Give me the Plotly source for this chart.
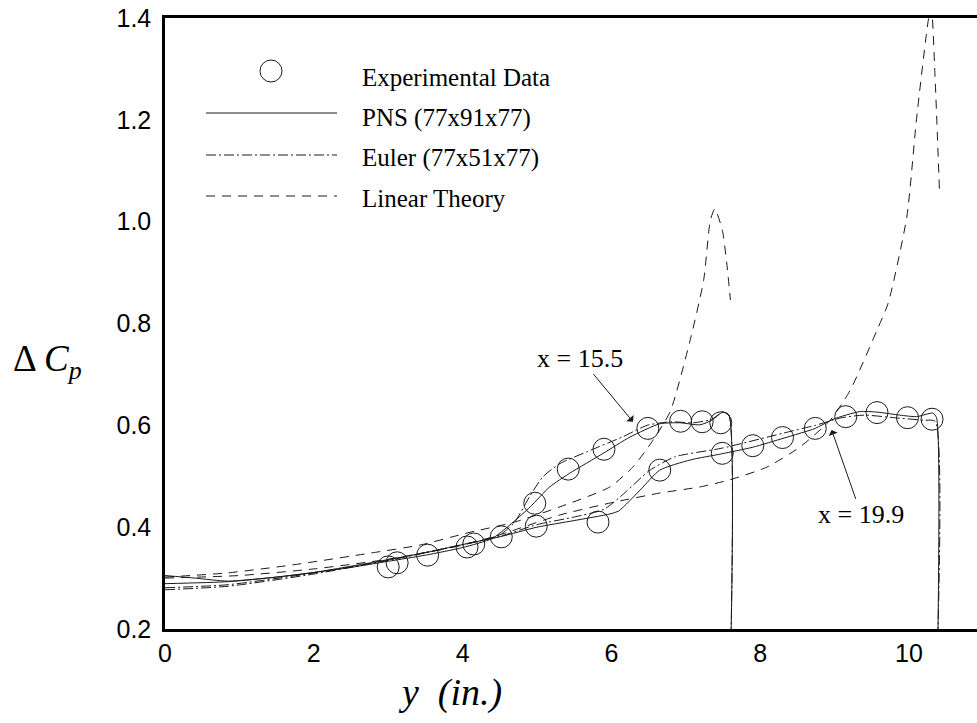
import plotly.graph_objects as go

# ---- Experimental data (spanwise station y in inches, Delta Cp) ----
exp_155_y = [3.00, 3.53, 4.06, 4.52, 4.97, 5.42, 5.90, 6.49, 6.93, 7.22, 7.47]
exp_155_cp = [0.322, 0.345, 0.361, 0.381, 0.447, 0.514, 0.553, 0.594, 0.608, 0.607, 0.605]
exp_199_y = [3.12, 4.15, 4.99, 5.82, 6.65, 7.49, 7.90, 8.30, 8.74, 9.15, 9.57, 9.98, 10.31]
exp_199_cp = [0.330, 0.367, 0.402, 0.410, 0.512, 0.545, 0.560, 0.576, 0.594, 0.617, 0.625, 0.615, 0.612]

# ---- PNS (77x91x77) ----
pns_155_y = [0, 0.4, 0.85, 1.5, 2.0, 2.5, 3.0, 3.5, 4.0, 4.4, 4.68, 4.91, 5.17, 5.44,
             5.89, 6.25, 6.65, 6.92, 7.19, 7.35, 7.50, 7.58, 7.61]
pns_155_cp = [0.305, 0.300, 0.294, 0.302, 0.311, 0.321, 0.333, 0.345, 0.360, 0.378, 0.410,
              0.440, 0.479, 0.506, 0.545, 0.577, 0.603, 0.605, 0.601, 0.610, 0.626, 0.620, 0.2]
pns_199_y = [0, 0.85, 1.5, 2.0, 2.76, 3.5, 4.1, 4.5, 5.0, 5.5, 5.98, 6.1, 6.4, 6.65, 7.06,
             7.48, 7.9, 8.32, 8.74, 8.98, 9.34, 9.57, 9.88, 10.1, 10.32, 10.37, 10.39]
pns_199_cp = [0.289, 0.293, 0.302, 0.311, 0.330, 0.350, 0.369, 0.381, 0.400, 0.413, 0.426,
              0.432, 0.475, 0.512, 0.532, 0.544, 0.557, 0.575, 0.594, 0.612, 0.627, 0.626,
              0.620, 0.617, 0.624, 0.615, 0.2]

# ---- Euler (77x51x77) ----
eul_155_y = [0, 0.85, 2.0, 3.0, 4.0, 4.5, 4.7, 4.9, 5.08, 5.31, 5.67, 6.16, 6.48, 6.8,
             7.1, 7.35, 7.5, 7.58, 7.61]
eul_155_cp = [0.281, 0.287, 0.310, 0.335, 0.365, 0.385, 0.410, 0.460, 0.499, 0.525, 0.548,
              0.578, 0.600, 0.607, 0.605, 0.612, 0.627, 0.620, 0.2]
eul_199_y = [0, 0.85, 2.0, 3.0, 4.0, 4.5, 5.0, 5.5, 5.9, 6.2, 6.5, 6.85, 7.48, 8.32, 8.74,
             9.1, 9.4, 9.8, 10.2, 10.35, 10.39]
eul_199_cp = [0.277, 0.284, 0.308, 0.335, 0.366, 0.382, 0.405, 0.420, 0.435, 0.470, 0.510,
              0.538, 0.555, 0.585, 0.600, 0.615, 0.620, 0.615, 0.610, 0.608, 0.2]

# ---- Linear theory ----
lin_155_y = [0, 0.83, 1.72, 2.76, 3.43, 4.10, 4.7, 5.31, 5.98, 6.3, 6.56, 6.79, 7.06,
             7.24, 7.33, 7.39, 7.49, 7.55, 7.60]
lin_155_cp = [0.302, 0.310, 0.326, 0.349, 0.365, 0.390, 0.410, 0.440, 0.479, 0.520, 0.571,
              0.627, 0.768, 0.885, 1.003, 1.025, 0.984, 0.919, 0.846]
lin_199_y = [0, 1.0, 2.0, 3.0, 4.0, 4.5, 5.31, 6.0, 6.65, 7.19, 7.59, 8.09, 8.53, 8.94,
             9.21, 9.57, 9.72, 9.97, 10.10, 10.26, 10.30, 10.35, 10.41]
lin_199_cp = [0.300, 0.305, 0.318, 0.337, 0.365, 0.385, 0.424, 0.448, 0.467, 0.479, 0.493,
              0.518, 0.557, 0.610, 0.669, 0.787, 0.840, 1.009, 1.200, 1.396, 1.420, 1.285,
              1.059]

x_ticks = [0, 2, 4, 6, 8, 10]
y_ticks = [0.2, 0.4, 0.6, 0.8, 1.0, 1.2, 1.4]
y_tick_text = ["0.2", "0.4", "0.6", "0.8", "1.0", "1.2", "1.4"]

legend_labels = ["Experimental Data", "PNS (77x91x77)", "Euler (77x51x77)", "Linear Theory"]

INK = "#1a1a1a"
SERIF = "Liberation Serif, Times New Roman, serif"
SANS = "Liberation Sans, Arial, Helvetica, sans-serif"
DASHDOT = "10px,3px,2px,3px"
DASH = "9px,7px"

W, H = 977, 723
ML, MR, MT, MB = 165, 0, 18, 94
PW, PH = W - ML - MR, H - MT - MB


def px(xp):
    return (xp - ML) / PW


def py(yp):
    return (H - MB - yp) / PH


fig = go.Figure()

line_sets = [
    (lin_155_y, lin_155_cp, DASH),
    (lin_199_y, lin_199_cp, DASH),
    (eul_155_y, eul_155_cp, DASHDOT),
    (eul_199_y, eul_199_cp, DASHDOT),
    (pns_155_y, pns_155_cp, "solid"),
    (pns_199_y, pns_199_cp, "solid"),
]
for xs, ys, dash in line_sets:
    fig.add_trace(go.Scatter(
        x=xs, y=ys, mode="lines", showlegend=False, hoverinfo="skip",
        line=dict(color=INK, width=1, dash=dash, shape="spline", smoothing=0.6),
    ))

for xs, ys in [(exp_155_y, exp_155_cp), (exp_199_y, exp_199_cp)]:
    fig.add_trace(go.Scatter(
        x=xs, y=ys, mode="markers", showlegend=False,
        marker=dict(symbol="circle-open", size=22, color=INK, line=dict(width=1, color=INK)),
    ))

# ---- legend drawn as shapes + text ----
shapes = []
r = 11
cx, cy = 271, 71
shapes.append(dict(type="circle", xref="paper", yref="paper",
                   x0=px(cx - r), x1=px(cx + r), y0=py(cy + r), y1=py(cy - r),
                   line=dict(color=INK, width=1)))
for yy, dash in [(113, "solid"), (155, DASHDOT), (196, DASH)]:
    shapes.append(dict(type="line", xref="paper", yref="paper",
                       x0=px(206), x1=px(337), y0=py(yy), y1=py(yy),
                       line=dict(color=INK, width=1, dash=dash)))

annotations = []
for label, yy in zip(legend_labels, [78, 118, 158, 198]):
    annotations.append(dict(text=label, xref="paper", yref="paper", x=px(360), y=py(yy),
                            xanchor="left", yanchor="middle", showarrow=False,
                            font=dict(family=SERIF, size=25, color="black")))

# station callouts
annotations.append(dict(text="x = 15.5", x=6.29, y=0.607, ax=5.58, ay=0.732,
                        axref="x", ayref="y", showarrow=True, arrowhead=1, arrowsize=1.6,
                        arrowwidth=1, arrowcolor=INK,
                        font=dict(family=SERIF, size=26, color="black")))
annotations.append(dict(text="x = 19.9", x=8.96, y=0.591, ax=9.36, ay=0.424,
                        axref="x", ayref="y", showarrow=True, arrowhead=1, arrowsize=1.6,
                        arrowwidth=1, arrowcolor=INK,
                        font=dict(family=SERIF, size=26, color="black")))

# axis titles
annotations.append(dict(text="<i>y  (in.)</i>", xref="paper", yref="paper",
                        x=px(450), y=py(692), xanchor="center", yanchor="middle",
                        showarrow=False, font=dict(family=SERIF, size=38, color="black")))
annotations.append(dict(text="Δ <i>C</i><sub><i>p</i></sub>", xref="paper", yref="paper",
                        x=px(47), y=py(362), xanchor="center", yanchor="middle",
                        showarrow=False, font=dict(family=SERIF, size=37, color="black")))

fig.update_layout(
    width=W, height=H,
    margin=dict(l=ML, r=MR, t=MT, b=MB),
    paper_bgcolor="white", plot_bgcolor="white",
    shapes=shapes, annotations=annotations,
    showlegend=False,
    xaxis=dict(range=[0, 10.914], tickvals=x_ticks, ticks="", showgrid=False, zeroline=False,
               showline=True, linecolor="black", linewidth=2.5, mirror=True,
               tickfont=dict(family=SANS, size=25, color="black"), ticklabelstandoff=0),
    yaxis=dict(range=[0.2, 1.4], tickvals=y_ticks, ticktext=y_tick_text, ticks="",
               showgrid=False, zeroline=False, showline=True, linecolor="black",
               linewidth=2.5, tickfont=dict(family=SANS, size=25, color="black"),
               ticklabelstandoff=6),
)

fig.write_html("out.html")
